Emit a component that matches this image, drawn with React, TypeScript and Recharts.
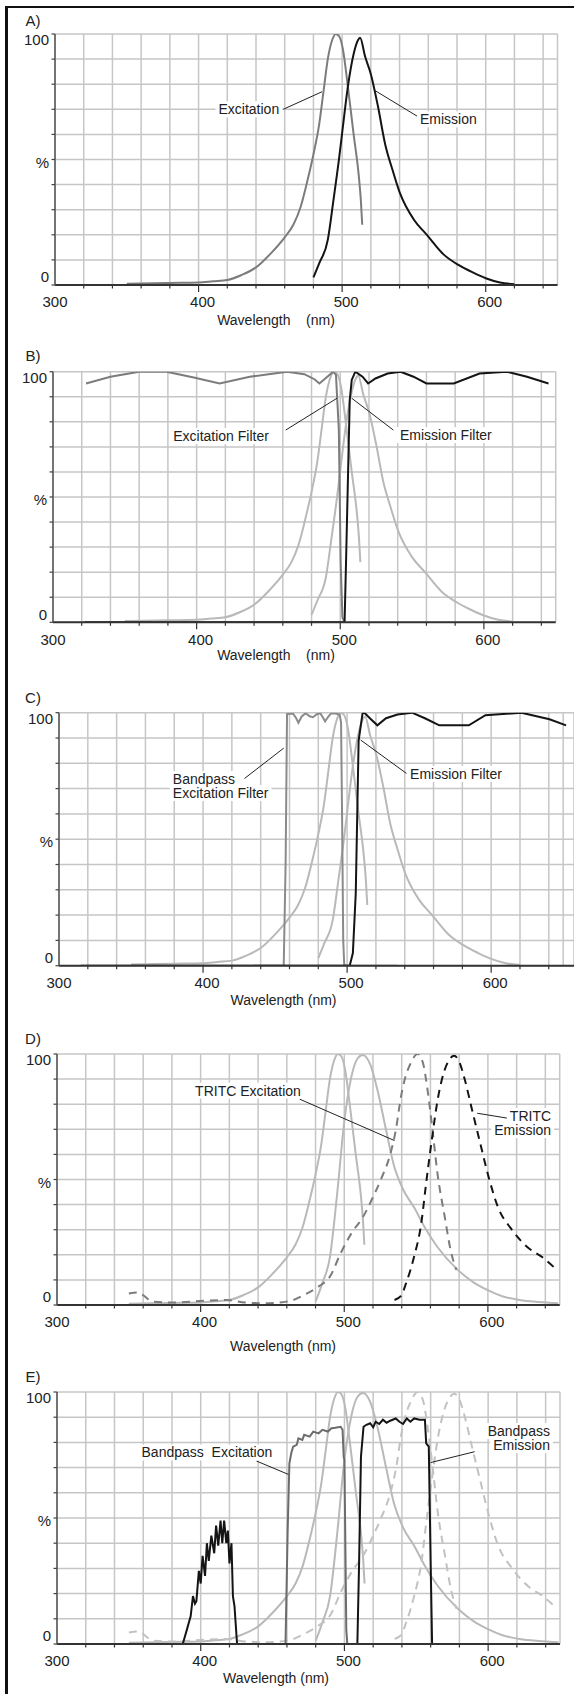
import React from 'react';
import { LineChart, Line, XAxis, YAxis, CartesianGrid, ReferenceLine, ReferenceDot } from 'recharts';

type Pt = [number, number];

const FONT = '"Liberation Sans", Arial, sans-serif';

// ---- axis ticks ----
const xTicks = [300, 320, 340, 360, 380, 400, 420, 440, 460, 480, 500, 520, 540, 560, 580, 600, 620, 640, 650];
const xTickLabels = [300, 400, 500, 600];
const yTicks = [0, 10, 20, 30, 40, 50, 60, 70, 80, 90, 100];
const yTickLabels: Record<number, string> = { 0: '0', 50: '%', 100: '100' };

// ---- fluorophore spectra (FITC) ----
const fitcExcitation: Pt[] = [
  [350, 0.5], [380, 0.8], [400, 1], [410, 1.5], [420, 2], [430, 4], [440, 7], [451, 13], [460, 19], [466, 24],
  [471, 31], [476, 42], [480, 52], [484, 64], [487, 77], [490, 90], [493, 97.5], [495.5, 100], [498, 99],
  [500.5, 94], [504, 79], [508, 60], [511.5, 44], [513, 34], [514, 24],
];
const fitcEmission: Pt[] = [
  [480, 3], [484, 8.6], [490, 18], [494, 34], [498, 51], [500.5, 63], [504, 79], [508, 92], [511, 97.5],
  [512.5, 98.5], [516, 91], [520, 84], [525, 71], [530, 56], [535, 46], [540, 37], [550, 26], [559, 20],
  [571, 12], [581, 8], [591, 5], [600, 2.7], [610, 1], [620, 0.3],
];
// emission spectrum as drawn in panels D and E (longer tail)
const fitcEmissionLong: Pt[] = [
  [480, 1.3], [484.7, 8.6], [490, 19], [495, 44], [500, 73], [505, 91], [509, 98], [512.8, 99.6], [518, 96],
  [523, 86], [529, 70], [534.4, 56], [541, 46], [548.5, 39], [556, 31], [565, 23], [579, 14], [590, 9],
  [599.5, 6], [610, 3.5], [622, 2], [635, 1.2], [649, 0.7],
];

// ---- TRITC spectra ----
const tritcExcitation: Pt[] = [
  [350, 4.6], [356, 5], [367, 1.3], [380, 1], [403, 1.7], [418, 2], [431, 1], [446, 0.7], [462, 1.6], [472, 4],
  [482, 7.3], [490, 11.3], [497.5, 20.6], [505, 28.6], [513, 35], [520, 43], [525.5, 50], [532, 60], [536, 70],
  [539.5, 83], [542, 89.6], [546, 96], [551, 100], [555, 96], [557, 89.6], [561, 72], [565, 52], [570, 35],
  [574, 22], [578, 14],
];
const tritcEmission: Pt[] = [
  [535, 2], [539.5, 3.6], [543, 8.6], [548.5, 19], [553.6, 32.5], [557, 48.5], [561, 66], [565, 81.7], [569, 92],
  [573, 97.6], [576.5, 99.3], [580, 97], [584, 89.6], [589, 77.7], [594, 66], [601, 50], [607, 39], [616, 30.5],
  [627.6, 23], [638, 19], [648, 14],
];

// ---- panel B filters ----
const bExcitationFilter: Pt[] = [
  [323, 95.3], [340, 98], [360, 100], [379, 100], [398, 97.7], [416, 95.3], [437, 98], [463, 100], [475, 99],
  [482, 97], [485.5, 95.3], [491, 98], [495, 100], [497, 98.7], [499, 77], [500.3, 23.5], [501.5, 2], [503, 0],
];
const bEmissionFilter: Pt[] = [
  [322, 0], [503, 0], [504, 23.5], [506.6, 88.7], [508, 96.7], [510.5, 100], [515.5, 98], [519.4, 95.3],
  [524.5, 97.3], [533, 99.3], [542, 100], [551, 98], [560, 95.3], [579, 95.3], [597, 99.3], [616, 100],
  [630, 98], [645, 95.3],
];

// ---- panel C filters ----
const cExcitationFilter: Pt[] = [
  [435, 0], [456, 0], [457.3, 40], [458.3, 99.5], [462.3, 99.7], [464.5, 98], [466.2, 96], [468.5, 98.5],
  [471.2, 99.8], [474, 98.6], [476.3, 98.2], [479, 99.4], [481.4, 99.8], [483.5, 97.8], [484.7, 96.6],
  [487, 98.5], [489, 99.8], [492, 99.7], [494.9, 99.2], [495.8, 96], [496.5, 60], [497.3, 10], [498, 0.5],
  [499, 0], [535, 0],
];
const cEmissionFilter: Pt[] = [
  [315, 0], [501.8, 0], [504, 5], [506, 28.6], [508, 89], [510.7, 99.7], [512, 100], [515.8, 97.8], [521, 95],
  [527, 97.8], [535, 99.3], [545, 100], [554, 97.8], [564, 95], [584.5, 95], [596, 99], [621, 100],
  [640.5, 97.4], [652, 95],
];

// ---- panel E filters ----
const eExcitationFilter: Pt[] = [
  [350, 0], [459, 0], [460.5, 45], [461.7, 71.7], [463, 75.7], [464.3, 78.3], [466.8, 79], [468, 81.6],
  [470.7, 81], [472, 83], [475.8, 82.3], [478.3, 84.3], [482, 83.6], [484.7, 85], [488.5, 84.3], [491, 85.6],
  [493.6, 85.8], [497.4, 86.2], [498.7, 85], [499.5, 74.3], [500, 73], [501.3, 5.6], [502, 0], [650, 0],
];
const eEmissionFilter: Pt[] = [
  [350, 0], [387.5, 0], [389, 3], [390.3, 5.5], [392, 9], [393, 11], [394.6, 19], [396, 16], [397, 17],
  [398.7, 29], [400, 24], [401.3, 35], [403, 27], [404.3, 40], [405.6, 33], [407.4, 43], [409.4, 36],
  [410.7, 47], [412.2, 39], [413.8, 49], [415, 40], [416.3, 49], [417.8, 40], [418.9, 45], [420, 32],
  [421.4, 40], [422.4, 19], [423.5, 15], [425.3, 0], [509, 0], [510.2, 32], [511.5, 74.3], [513.3, 86.2],
  [515.3, 87], [517.9, 87.6], [520, 86], [521.7, 88.2], [524.2, 87.3], [526.8, 89], [529.3, 87.8],
  [531.9, 88.6], [535.7, 89.5], [538.3, 88.2], [540.8, 87.3], [543.4, 89.5], [545.9, 88.2], [548.5, 89.5],
  [552.3, 89], [556, 89], [556.9, 79.6], [558.7, 78.3], [560, 32], [561, 0], [650, 0],
];

// ---- styles ----
const LIGHT = '#b9b9b9';
const MID = '#7c7c7c';
const DARK = '#141414';

type Series = { pts: Pt[]; color: string; dash?: string; curve?: 'linear' | 'monotoneX' };
type Anno = { x: number; y: number; lines: string[]; anchor: 'start' | 'middle' | 'end' };
type Leader = [number, number, number, number];
type Cfg = {
  top: number; height: number; plotTop: number; plotBottom: number; plotLeft: number; plotRight: number;
  domain: [number, number]; title: string; titleY: number; xlabel: string; xlabelX: number; xlabelY: number;
};

let measureCtx: CanvasRenderingContext2D | null = null;
function textWidth(s: string, size = 14): number {
  if (!measureCtx) {
    const c = document.createElement('canvas');
    measureCtx = c.getContext('2d');
  }
  if (!measureCtx) return s.length * size * 0.5;
  measureCtx.font = `${size}px ${FONT}`;
  return measureCtx.measureText(s).width;
}

const toData = (pts: Pt[]) => pts.map(([x, v]) => ({ x, v }));

function XTick(props: any) {
  const { x, y, payload } = props;
  const v = payload.value;
  if (v === 650) return <g />;
  const major = v % 100 === 0;
  return (
    <g>
      {v !== 300 && <line x1={x} x2={x} y1={y} y2={y + (major ? 7 : 3.5)} stroke="#333" strokeWidth={1.2} />}
      {xTickLabels.includes(v) && (
        <text x={x + (v === 300 ? 0 : 4)} y={y + 17} dy="0.35em" textAnchor="middle" fontSize={15} fill="#222">
          {v}
        </text>
      )}
    </g>
  );
}

function YTick(props: any) {
  const { x, y, payload } = props;
  const v = payload.value;
  const lab = yTickLabels[v];
  const dy = v === 100 ? 6 : v === 0 ? -8 : 3;
  return (
    <g>
      <line x1={x - 3.5} x2={x} y1={y} y2={y} stroke="#444" strokeWidth={1.2} />
      {lab && (
        <text x={x - 6} y={y + dy} dy="0.35em" textAnchor="end" fontSize={15} fill="#222">
          {lab}
        </text>
      )}
    </g>
  );
}

function AnnoText(props: any) {
  const { viewBox, lines, anchor } = props;
  const cx = viewBox.x + (viewBox.width || 0) / 2;
  const cy = viewBox.y + (viewBox.height || 0) / 2;
  const lh = 14;
  return (
    <g>
      {lines.map((l: string, i: number) => {
        const w = textWidth(l);
        const lx = anchor === 'start' ? cx : anchor === 'middle' ? cx - w / 2 : cx - w;
        return <rect key={'r' + i} x={lx - 3} y={cy + i * lh - 8} width={w + 6} height={16} fill="#fff" />;
      })}
      {lines.map((l: string, i: number) => (
        <text key={i} x={cx} y={cy + i * lh} dy="0.35em" textAnchor={anchor} fontSize={14} fill="#222"
          style={{ whiteSpace: 'pre' }}>
          {l}
        </text>
      ))}
    </g>
  );
}

function Panel({ cfg, series, annos, leaders }: { cfg: Cfg; series: Series[]; annos: Anno[]; leaders: Leader[] }) {
  const { top, height, plotTop, plotBottom, plotLeft, plotRight, domain } = cfg;
  return (
    <div style={{ position: 'absolute', left: 0, top, width: 574, height }}>
      <LineChart width={574} height={height} margin={{ top: plotTop, right: 574 - plotRight, bottom: 0, left: 0 }}>
        <CartesianGrid stroke="#c6c6c6" strokeWidth={1.5} />
        <XAxis
          type="number"
          dataKey="x"
          domain={domain}
          ticks={xTicks}
          interval={0}
          allowDataOverflow
          height={height - plotBottom}
          tickSize={0}
          tickMargin={0}
          tickLine={false}
          axisLine={{ stroke: '#333', strokeWidth: 2 }}
          tick={(p: any) => <XTick {...p} />}
          label={{
            content: () => (
              <text x={cfg.xlabelX} y={cfg.xlabelY} dy="0.35em" textAnchor="middle" fontSize={14} fill="#222"
                style={{ whiteSpace: 'pre' }}>
                {cfg.xlabel}
              </text>
            ),
          }}
        />
        <YAxis
          type="number"
          domain={[0, 100]}
          ticks={yTicks}
          interval={0}
          allowDataOverflow
          width={plotLeft}
          tickSize={0}
          tickMargin={0}
          tickLine={false}
          axisLine={{ stroke: '#555', strokeWidth: 1.5 }}
          tick={(p: any) => <YTick {...p} />}
          label={{
            content: () => (
              <text x={33} y={cfg.titleY} dy="0.35em" textAnchor="middle" fontSize={15} fill="#222">
                {cfg.title}
              </text>
            ),
          }}
        />
        {series.map((s, i) => (
          <Line
            key={i}
            data={toData(s.pts)}
            dataKey="v"
            type={s.curve || 'linear'}
            stroke={s.color}
            strokeWidth={2}
            strokeDasharray={s.dash}
            dot={false}
            activeDot={false}
            isAnimationActive={false}
          />
        ))}
        {leaders.map((l, i) => (
          <ReferenceLine
            key={'l' + i}
            segment={[{ x: l[0], y: l[1] }, { x: l[2], y: l[3] }]}
            stroke="#222"
            strokeWidth={1}
            ifOverflow="visible"
          />
        ))}
        {annos.map((a, i) => (
          <ReferenceDot
            key={'a' + i}
            x={a.x}
            y={a.y}
            r={0}
            fill="none"
            stroke="none"
            ifOverflow="visible"
            label={{ content: (p: any) => <AnnoText {...p} lines={a.lines} anchor={a.anchor} /> }}
          />
        ))}
      </LineChart>
    </div>
  );
}

const cfgA: Cfg = { top: 0, height: 340, plotTop: 34, plotBottom: 285, plotLeft: 55, plotRight: 557.5, domain: [300, 650], title: 'A)', titleY: 21, xlabel: 'Wavelength    (nm)', xlabelX: 276, xlabelY: 320 };
const cfgB: Cfg = { top: 340, height: 340, plotTop: 31.7, plotBottom: 282.3, plotLeft: 53, plotRight: 555.7, domain: [300, 650], title: 'B)', titleY: 16, xlabel: 'Wavelength    (nm)', xlabelX: 276, xlabelY: 315 };
const cfgC: Cfg = { top: 680, height: 340, plotTop: 32.7, plotBottom: 285.7, plotLeft: 59, plotRight: 574, domain: [300, 657.5], title: 'C)', titleY: 18, xlabel: 'Wavelength (nm)', xlabelX: 283.5, xlabelY: 320 };
const cfgD: Cfg = { top: 1020, height: 340, plotTop: 34, plotBottom: 285, plotLeft: 57, plotRight: 559.7, domain: [300, 650], title: 'D)', titleY: 19, xlabel: 'Wavelength (nm)', xlabelX: 283, xlabelY: 326 };
const cfgE: Cfg = { top: 1360, height: 334, plotTop: 32, plotBottom: 284, plotLeft: 57, plotRight: 560, domain: [300, 650], title: 'E)', titleY: 17, xlabel: 'Wavelength (nm)', xlabelX: 276, xlabelY: 318 };

export default function App() {
  return (
    <div style={{ position: 'absolute', left: 0, top: 0, width: 574, height: 1694, overflow: 'hidden', background: '#fff', fontFamily: FONT }}>
      <div style={{ position: 'absolute', left: 5, top: 6, width: 600, height: 1700, borderLeft: '3px solid #111', borderTop: '2px solid #111' }} />
      <Panel
        cfg={cfgA}
        series={[
          { pts: fitcExcitation, color: MID, curve: 'monotoneX' },
          { pts: fitcEmission, color: DARK, curve: 'monotoneX' },
        ]}
        annos={[
          { x: 435, y: 70, lines: ['Excitation'], anchor: 'middle' },
          { x: 574, y: 66, lines: ['Emission'], anchor: 'middle' },
        ]}
        leaders={[[459, 70, 486, 77], [522.2, 77.7, 553, 67]]}
      />
      <Panel
        cfg={cfgB}
        series={[
          { pts: fitcExcitation, color: LIGHT, curve: 'monotoneX' },
          { pts: fitcEmission, color: LIGHT, curve: 'monotoneX' },
          { pts: bExcitationFilter, color: MID },
          { pts: bEmissionFilter, color: DARK },
        ]}
        annos={[
          { x: 417, y: 74.3, lines: ['Excitation Filter'], anchor: 'middle' },
          { x: 573.5, y: 74.7, lines: ['Emission Filter'], anchor: 'middle' },
        ]}
        leaders={[[462, 76.7, 497.7, 89.4], [508, 89.4, 537, 76.7]]}
      />
      <Panel
        cfg={cfgC}
        series={[
          { pts: fitcExcitation, color: LIGHT, curve: 'monotoneX' },
          { pts: fitcEmission, color: LIGHT, curve: 'monotoneX' },
          { pts: cExcitationFilter, color: '#8a8a8a' },
          { pts: cEmissionFilter, color: DARK },
        ]}
        annos={[
          { x: 379, y: 73.8, lines: ['Bandpass', 'Excitation Filter'], anchor: 'start' },
          { x: 575.6, y: 75.8, lines: ['Emission Filter'], anchor: 'middle' },
        ]}
        leaders={[[428.8, 74, 456, 86], [509.4, 89.2, 541.2, 76]]}
      />
      <Panel
        cfg={cfgD}
        series={[
          { pts: fitcExcitation, color: LIGHT, curve: 'monotoneX' },
          { pts: fitcEmissionLong, color: LIGHT, curve: 'monotoneX' },
          { pts: tritcExcitation, color: MID, dash: '8 6', curve: 'monotoneX' },
          { pts: tritcEmission, color: DARK, dash: '8 6', curve: 'monotoneX' },
        ]}
        annos={[
          { x: 433, y: 85.4, lines: ['TRITC Excitation'], anchor: 'middle' },
          { x: 644, y: 75.3, lines: ['TRITC', 'Emission'], anchor: 'end' },
        ]}
        leaders={[[469, 82, 535, 65.5], [592.6, 76.4, 614, 74.4]]}
      />
      <Panel
        cfg={cfgE}
        series={[
          { pts: fitcExcitation, color: LIGHT, curve: 'monotoneX' },
          { pts: fitcEmissionLong, color: LIGHT, curve: 'monotoneX' },
          { pts: tritcExcitation, color: '#c2c2c2', dash: '8 6', curve: 'monotoneX' },
          { pts: tritcEmission, color: '#c2c2c2', dash: '8 6', curve: 'monotoneX' },
          { pts: eExcitationFilter, color: '#6c6c6c' },
          { pts: eEmissionFilter, color: DARK },
        ]}
        annos={[
          { x: 404.3, y: 76, lines: ['Bandpass  Excitation'], anchor: 'middle' },
          { x: 643, y: 84.5, lines: ['Bandpass', 'Emission'], anchor: 'end' },
        ]}
        leaders={[[438.8, 72.6, 461, 67.3], [560, 72, 590.6, 76.3]]}
      />
    </div>
  );
}
